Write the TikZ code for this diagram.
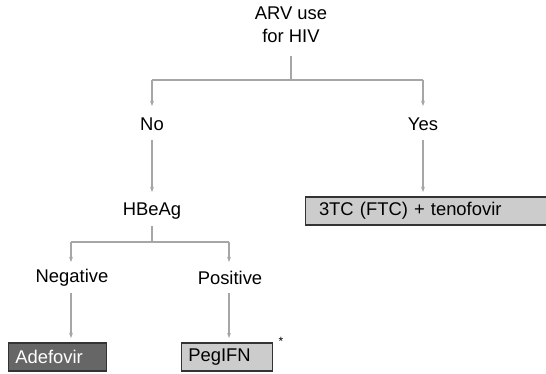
\documentclass[tikz,border=0pt]{standalone}
\usepackage{fontspec}
\setmainfont{Liberation Sans}
\usetikzlibrary{arrows.meta}
\begin{document}
\begin{tikzpicture}[x=0.75pt,y=-0.75pt,
  lbl/.style={font=\fontsize{13.8}{17}\selectfont, inner sep=0pt, align=center},
  conn/.style={draw=black!35, line width=1.1pt, -{Stealth[length=4pt,width=3pt]}},
  plainc/.style={draw=black!35, line width=1.1pt},
  boxbase/.style={draw=black!80, line width=1pt, font=\fontsize{13.8}{17}\selectfont, inner ysep=0pt, minimum height=21pt, align=left, anchor=west},
  boxl/.style={boxbase, fill=black!20},
  boxd/.style={boxbase, fill=black!60, text=white}]
\useasboundingbox (0,0) rectangle (546,374);
\node[lbl] (arv) at (291,25) {ARV use\\for HIV};
\node[lbl] (no) at (152,124) {No};
\node[lbl] (yes) at (423,124) {Yes};
\node[lbl] (hbe) at (152,211) {HBeAg};
\node[lbl] (neg) at (72,278) {Negative};
\node[lbl] (pos) at (230,278) {Positive};
\node[boxd, inner xsep=5pt, text width=63.5pt] (ade) at (8,357) {Adefovir};
\node[boxl, inner xsep=5pt, text width=58pt] (peg) at (181,357) {PegIFN};
\node[font=\fontsize{9}{10}\selectfont, inner sep=0pt] (ast) at (281,341) {*};
\node[boxl, inner xsep=10pt, text width=174pt] (tc) at (305,211) {3TC (FTC) + tenofovir};
\coordinate (j1) at (291,80);
\coordinate (j2) at (152,242);
\draw[plainc] (291,56) -- (j1);
\draw[plainc] (152,80) -- (423,80);
\draw[conn] (152,80) -- (152,106);
\draw[conn] (423,80) -- (423,106);
\draw[conn] (152,140) -- (152,192);
\draw[conn] (423,140) -- (423,192);
\draw[plainc] (152,226) -- (j2);
\draw[plainc] (71,242) -- (229,242);
\draw[conn] (71,242) -- (71,262);
\draw[conn] (229,242) -- (229,262);
\draw[conn] (71,293) -- (71,338);
\draw[conn] (229,293) -- (229,338);
\end{tikzpicture}
\end{document}
